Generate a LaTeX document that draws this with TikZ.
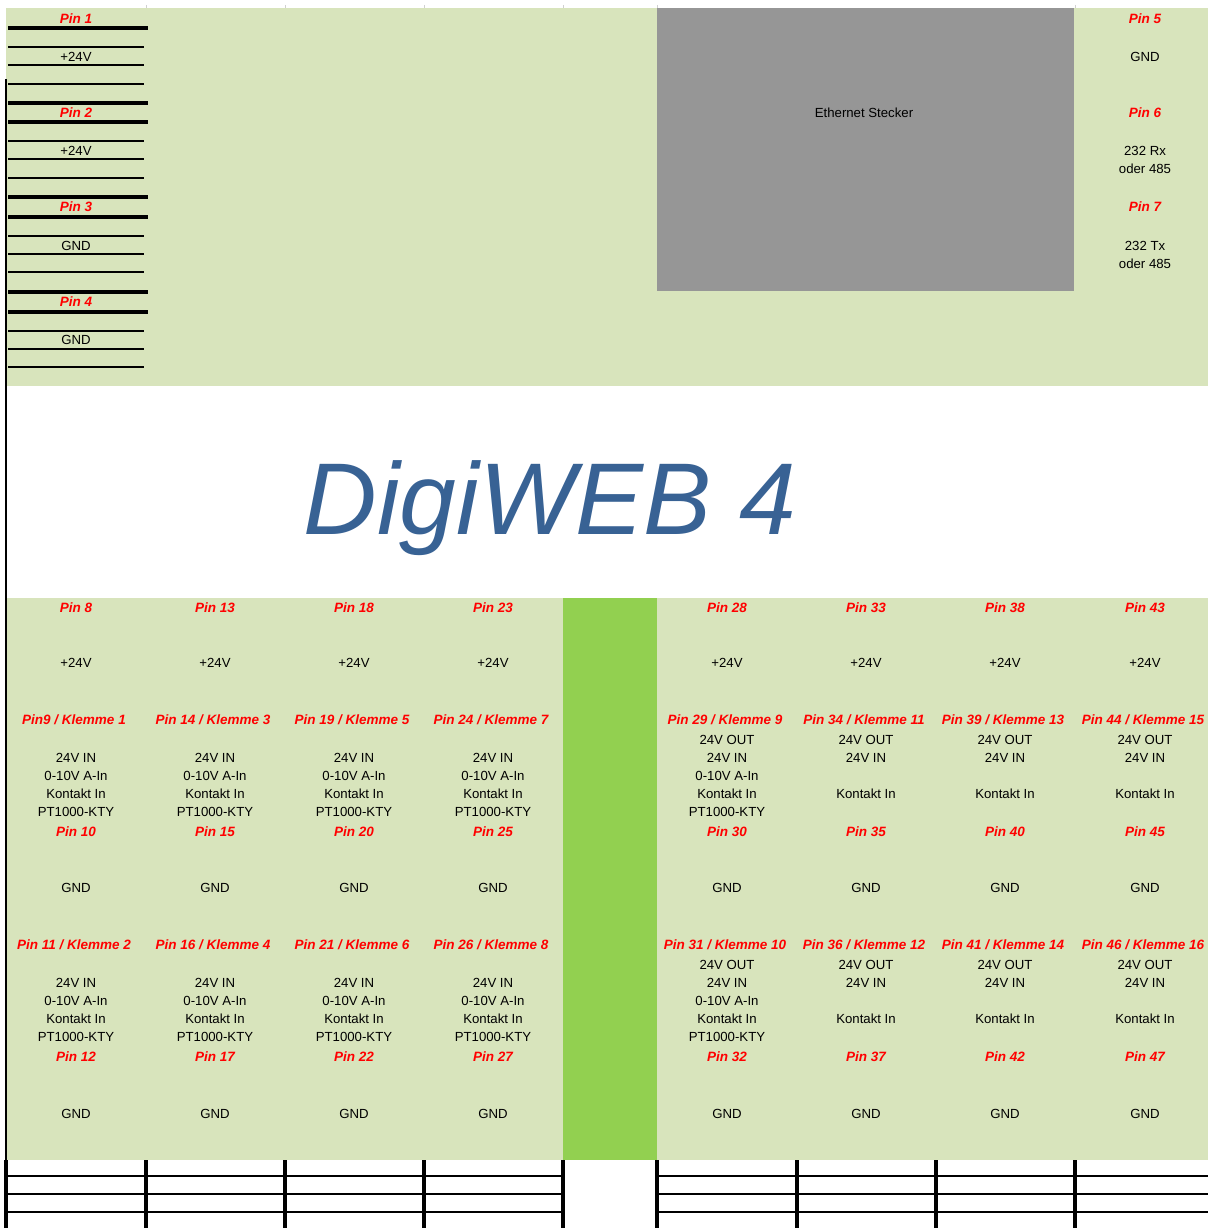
\documentclass[tikz,border=0pt]{standalone}
\usepackage{fontspec}
\setmainfont{Liberation Sans}
\definecolor{lgreen}{HTML}{D8E4BC}
\definecolor{bgreen}{HTML}{92D050}
\definecolor{egray}{HTML}{969696}
\definecolor{titleblue}{HTML}{386294}
\definecolor{tickgray}{HTML}{D0D0D0}
\begin{document}
\begin{tikzpicture}[x=1pt,y=-1pt,
  pinlbl/.style={text=red, font=\fontsize{13.5}{18}\selectfont\bfseries\itshape, inner sep=0pt, anchor=center, yshift=-1pt},
  klemme/.style={pinlbl, xshift=-2pt},
  val/.style={font=\fontsize{13.2}{18}\selectfont, align=center, inner sep=0pt, anchor=center, yshift=-1pt},
  thickrule/.style={line width=3.5pt},
  thinrule/.style={line width=1.6pt},
  gridv/.style={line width=3.5pt},
  gridh/.style={line width=2pt}]
\useasboundingbox (0,0) rectangle (1208,1228);
% backgrounds
\fill[lgreen] (6,8) rectangle (1208,386);
\fill[lgreen] (6,598) rectangle (1208,1160);
\fill[egray] (657,8) rectangle (1074,291);
\fill[bgreen] (563,598) rectangle (657,1160);
% faint grid stubs at top
\foreach \x in {146,285,424,563,657,1075} \draw[tickgray, line width=1pt] (\x,5) -- (\x,8);
% left border line
\draw[line width=1.5pt] (6,79) -- (6,1228);
% top-left rules
\foreach \y in {28,103,122,197,217,292,312} \draw[thickrule] (8,\y) -- (148,\y);
\foreach \y in {47,65,84,141,159,178,236,254,272,331,349,367} \draw[thinrule] (8,\y) -- (144,\y);
% bottom grid
\foreach \y in {1176,1194,1212} {
  \draw[gridh] (6,\y) -- (563,\y);
  \draw[gridh] (657,\y) -- (1208,\y);
}
\foreach \x in {6,146,285,424,563,657,797,936,1075} \draw[gridv] (\x,1160) -- (\x,1228);
% top-left texts
\node[pinlbl] (p1) at (76,18) {Pin 1};
\node[val] (v1) at (76,56) {+24V};
\node[pinlbl] (p2) at (76,112) {Pin 2};
\node[val] (v2) at (76,150) {+24V};
\node[pinlbl] (p3) at (76,206) {Pin 3};
\node[val] (v3) at (76,245) {GND};
\node[pinlbl] (p4) at (76,301) {Pin 4};
\node[val] (v4) at (76,339) {GND};
% ethernet
\node[val] (eth) at (864,112) {Ethernet Stecker};
% top-right texts
\node[pinlbl] (p5) at (1145,18) {Pin 5};
\node[val] (v5) at (1145,56) {GND};
\node[pinlbl] (p6) at (1145,112) {Pin 6};
\node[val] (v6) at (1145,159) {232 Rx\\oder 485};
\node[pinlbl] (p7) at (1145,206) {Pin 7};
\node[val] (v7) at (1145,254) {232 Tx\\oder 485};
% title
\node[text=titleblue, font=\fontsize{102}{104}\selectfont\itshape, inner sep=0pt, anchor=base] (title) at (550,534) {DigiWEB 4};
% bottom columns
\foreach \n/\x/\pa/\pb/\pc/\pd/\pe in {
  a/76/{Pin 8}/{Pin9 / Klemme 1}/{Pin 10}/{Pin 11 / Klemme 2}/{Pin 12},
  b/215/{Pin 13}/{Pin 14 / Klemme 3}/{Pin 15}/{Pin 16 / Klemme 4}/{Pin 17},
  c/354/{Pin 18}/{Pin 19 / Klemme 5}/{Pin 20}/{Pin 21 / Klemme 6}/{Pin 22},
  d/493/{Pin 23}/{Pin 24 / Klemme 7}/{Pin 25}/{Pin 26 / Klemme 8}/{Pin 27},
  f/727/{Pin 28}/{Pin 29 / Klemme 9}/{Pin 30}/{Pin 31 / Klemme 10}/{Pin 32},
  g/866/{Pin 33}/{Pin 34 / Klemme 11}/{Pin 35}/{Pin 36 / Klemme 12}/{Pin 37},
  h/1005/{Pin 38}/{Pin 39 / Klemme 13}/{Pin 40}/{Pin 41 / Klemme 14}/{Pin 42},
  i/1145/{Pin 43}/{Pin 44 / Klemme 15}/{Pin 45}/{Pin 46 / Klemme 16}/{Pin 47}}
{
  \node[pinlbl] (\n-1) at (\x,607) {\pa};
  \node[val] (\n-2) at (\x,662) {+24V};
  \node[klemme] (\n-3) at (\x,719) {\pb};
  \node[pinlbl] (\n-4) at (\x,831) {\pc};
  \node[val] (\n-5) at (\x,887) {GND};
  \node[klemme] (\n-6) at (\x,944) {\pd};
  \node[pinlbl] (\n-7) at (\x,1056) {\pe};
  \node[val] (\n-8) at (\x,1113) {GND};
}
\foreach \n/\x in {a/76,b/215,c/354,d/493} {
  \node[val] (\n-in1) at (\x,784) {24V IN\\0-10V A-In\\Kontakt In\\PT1000-KTY};
  \node[val] (\n-in2) at (\x,1009) {24V IN\\0-10V A-In\\Kontakt In\\PT1000-KTY};
}
\node[val] (f-in1) at (727,775) {24V OUT\\24V IN\\0-10V A-In\\Kontakt In\\PT1000-KTY};
\node[val] (f-in2) at (727,1000) {24V OUT\\24V IN\\0-10V A-In\\Kontakt In\\PT1000-KTY};
\foreach \n/\x in {g/866,h/1005,i/1145} {
  \node[val] (\n-io1) at (\x,748) {24V OUT\\24V IN};
  \node[val] (\n-k1) at (\x,793) {Kontakt In};
  \node[val] (\n-io2) at (\x,973) {24V OUT\\24V IN};
  \node[val] (\n-k2) at (\x,1018) {Kontakt In};
}
\end{tikzpicture}
\end{document}
